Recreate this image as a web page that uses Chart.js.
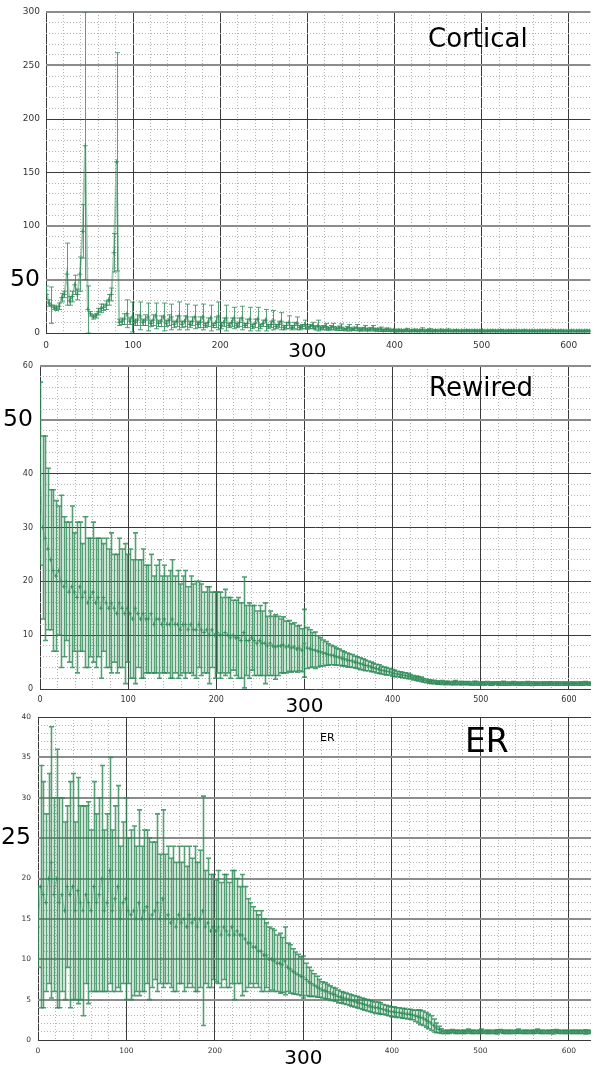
<!DOCTYPE html>
<html>
<head>
<meta charset="utf-8">
<script src="https://cdn.jsdelivr.net/npm/chart.js@4.4.1/dist/chart.umd.min.js"></script>
<style>
    html, body { margin: 0; padding: 0; background: #fff; }
    body { width: 594px; height: 1066px; position: relative; overflow: hidden; font-family: 'DejaVu Sans', sans-serif; }
    canvas { position: absolute; left: 0; }
    .label { position: absolute; line-height: 1; color: #000; white-space: nowrap; }
</style>
</head>
<body>
<canvas id="corticalChart" width="594" height="357" style="top:0px"></canvas>
<canvas id="rewiredChart" width="594" height="358" style="top:355px"></canvas>
<canvas id="erChart" width="594" height="356" style="top:710px"></canvas>
<div class="label" style="left:428px; top:25px; font-size:26px;">Cortical</div>
<div class="label" style="left:429px; top:374px; font-size:26px;">Rewired</div>
<div class="label" style="left:320px; top:732px; font-size:11px;">ER</div>
<div class="label" style="left:465px; top:724px; font-size:33px;">ER</div>
<script>
const xValues = [
    0, 3, 6, 9, 12, 15, 18, 21, 24, 27,
    30, 33, 36, 39, 42, 45, 48, 51, 54, 57,
    60, 63, 66, 69, 72, 75, 78, 81, 84, 87,
    90, 93, 96, 99, 102, 105, 108, 111, 114, 117,
    120, 123, 126, 129, 132, 135, 138, 141, 144, 147,
    150, 153, 156, 159, 162, 165, 168, 171, 174, 177,
    180, 183, 186, 189, 192, 195, 198, 201, 204, 207,
    210, 213, 216, 219, 222, 225, 228, 231, 234, 237,
    240, 243, 246, 249, 252, 255, 258, 261, 264, 267,
    270, 273, 276, 279, 282, 285, 288, 291, 294, 297,
    300, 303, 306, 309, 312, 315, 318, 321, 324, 327,
    330, 333, 336, 339, 342, 345, 348, 351, 354, 357,
    360, 363, 366, 369, 372, 375, 378, 381, 384, 387,
    390, 393, 396, 399, 402, 405, 408, 411, 414, 417,
    420, 423, 426, 429, 432, 435, 438, 441, 444, 447,
    450, 453, 456, 459, 462, 465, 468, 471, 474, 477,
    480, 483, 486, 489, 492, 495, 498, 501, 504, 507,
    510, 513, 516, 519, 522, 525, 528, 531, 534, 537,
    540, 543, 546, 549, 552, 555, 558, 561, 564, 567,
    570, 573, 576, 579, 582, 585, 588, 591, 594, 597,
    600, 603, 606, 609, 612, 615, 618, 621, 624
];

const corticalMean = [
    40, 28, 26, 24, 23, 25, 33, 36, 55, 30,
    34, 45, 36, 55, 95, 175, 22, 18, 15, 16,
    20, 23, 24, 26, 31, 36, 75, 160, 10, 11,
    13, 18, 11, 15, 10, 12, 16, 10, 12, 15,
    9, 12, 16, 9, 11, 15, 9, 12, 15, 8,
    11, 16, 8, 11, 15, 8, 11, 15, 8, 10,
    15, 7, 10, 14, 7, 10, 16, 7, 10, 14,
    7, 10, 14, 7, 10, 14, 7, 9, 13, 6,
    9, 13, 6, 9, 12, 6, 8, 12, 6, 8,
    11, 5, 7, 10, 5, 7, 9, 5, 6, 8,
    5, 6, 7, 4.5, 7, 4.5, 5, 6, 4, 5,
    6, 4, 4.5, 5.5, 3.5, 4, 5, 3.5, 4, 5,
    3, 3.5, 4.5, 3, 3.5, 4.5, 3, 3, 3.5, 2.5,
    3, 3, 2.5, 2.5, 2, 2.5, 2, 2.2, 2.8, 2,
    2.2, 2.5, 2, 2.2, 3, 2, 2.3, 2.5, 2, 2.2,
    2, 2.4, 2, 2.1, 2.5, 1.9, 2, 2.2, 1.9, 2,
    2, 2.2, 1.9, 2, 2.1, 1.9, 2, 2.1, 1.8, 2,
    1.9, 2.1, 1.8, 2, 2.2, 1.8, 1.9, 2, 1.8, 2,
    1.9, 2, 1.8, 2.1, 1.9, 1.8, 2, 1.9, 1.8, 2,
    1.8, 2, 1.9, 1.8, 2.1, 1.8, 1.9, 2, 1.8, 1.9,
    1.8, 2, 1.9, 1.8, 2, 1.8, 1.9, 2, 1.8
];
const corticalErr = [
    4, 3, 17, 2, 2, 3, 4, 3, 29, 4,
    5, 9, 5, 16, 25, 125, 22, 2, 2, 2,
    3, 4, 3, 4, 5, 6, 18, 102, 3, 3,
    5, 13, 3, 14, 3, 5, 13, 3, 5, 13,
    3, 5, 12, 3, 5, 13, 3, 5, 12, 3,
    5, 13, 3, 5, 12, 3, 4, 11, 3, 5,
    12, 2, 4, 12, 2, 5, 13, 3, 4, 12,
    2, 4, 10, 2, 4, 11, 2, 4, 11, 2,
    4, 11, 2, 3, 10, 2, 3, 9, 2, 3,
    8, 2, 3, 6, 2, 3, 6, 2, 2, 4,
    1.5, 2, 3, 1.5, 5, 1.5, 2, 3, 1.5, 2,
    3, 1.5, 2, 3, 1, 2, 3, 1, 1.5, 3,
    1, 1.5, 2.5, 1, 1.5, 2.5, 1, 1.5, 2, 1,
    1.5, 1.5, 1, 1, 1, 1.2, 0.8, 1, 1.5, 0.8,
    1, 1.2, 0.8, 1, 1.8, 0.8, 1, 1.5, 0.8, 1,
    0.8, 1.2, 0.8, 1, 1.2, 0.8, 0.9, 1, 0.8, 0.9,
    0.9, 1, 0.8, 0.9, 1, 0.8, 0.9, 1, 0.8, 0.9,
    0.8, 1, 0.8, 0.9, 1.1, 0.8, 0.9, 1, 0.8, 0.9,
    0.8, 0.9, 0.8, 1, 0.9, 0.8, 0.9, 0.9, 0.8, 1,
    0.8, 0.9, 0.9, 0.8, 1, 0.8, 0.9, 0.9, 0.8, 0.9,
    0.8, 0.9, 0.9, 0.8, 0.9, 0.8, 0.9, 0.9, 0.8
];

const rewiredMean = [
    40, 30, 28, 26, 24, 22, 21, 22, 20, 19,
    20, 18, 19, 18, 17, 19, 17, 18, 16, 17,
    18, 16, 17, 15, 17, 16, 15, 16, 15, 14,
    16, 15, 14, 15, 14, 13, 15, 14, 13, 14,
    13, 13, 14, 12, 13, 13, 12, 13, 12, 12,
    13, 12, 12, 11, 12, 12, 11, 12, 11, 11,
    12, 11, 10.5, 11, 10, 11, 10, 10.5, 10, 10,
    10.5, 10, 9.5, 10, 9.5, 9.5, 9, 10.5, 9, 9,
    9.5, 9, 8.5, 9, 8.5, 8.5, 8, 8.5, 8, 7.8,
    8, 8, 8.2, 7.8, 8, 7.6, 7.8, 7.4, 7.6, 7.2,
    8.5, 7.6, 7.5, 7.3, 7.2, 7.0, 6.9, 6.7, 6.6, 6.4,
    6.3, 6.2, 6.0, 5.9, 5.7, 5.6, 5.4, 5.3, 5.2, 5.0,
    4.9, 4.7, 4.6, 4.4, 4.3, 4.1, 4.0, 3.8, 3.7, 3.5,
    3.4, 3.3, 3.2, 3.0, 2.9, 2.8, 2.7, 2.6, 2.5, 2.4,
    2.3, 2.1, 2.0, 1.9, 1.8, 1.6, 1.5, 1.4, 1.3, 1.3,
    1.2, 1.2, 1.2, 1.1, 1.2, 1.1, 1.1, 1.2, 1.1, 1.1,
    1.1, 1.1, 1.1, 1.0, 1.1, 1.1, 1.0, 1.1, 1.0, 1.1,
    1.0, 1.0, 1.1, 1.0, 1.0, 1.1, 1.0, 1.0, 1.0, 1.1,
    1.0, 1.0, 1.0, 1.0, 1.1, 1.0, 1.0, 1.0, 1.0, 1.0,
    1.0, 1.0, 1.0, 1.1, 1.0, 1.0, 1.0, 1.0, 1.0, 1.0,
    1.0, 1.0, 1.0, 1.0, 1.0, 1.0, 1.1, 1.0, 1.0
];
const rewiredErr = [
    17, 17, 19, 15, 13, 15, 14, 12, 16, 13,
    11, 13, 15, 11, 14, 12, 10, 14, 12, 11,
    13, 12, 11, 13, 10, 12, 11, 13, 10, 11,
    12, 11, 13, 10, 12, 11, 14, 10, 11, 12,
    10, 10, 11, 9, 10, 11, 9, 10, 9, 10,
    11, 9, 10, 8.5, 9, 10, 8, 9, 8.5, 9,
    8, 8.5, 7.5, 8, 9, 7, 8, 7.5, 8, 7,
    8, 7, 7.5, 6.5, 7, 7.5, 7, 10.3, 6.5, 7,
    6, 6.5, 6, 6.5, 6, 7.5, 5.5, 6, 5.5, 6,
    5.5, 5, 5.2, 4.8, 4.7, 4.5, 4.5, 4.3, 4.2, 4.0,
    6.3, 3.8, 3.5, 3.2, 3.4, 2.9, 2.6, 2.4, 2.2, 2.0,
    1.8, 1.7, 1.6, 1.5, 1.4, 1.3, 1.3, 1.2, 1.2, 1.1,
    1.1, 1.1, 1.0, 1.0, 0.9, 0.9, 0.8, 0.8, 0.8, 0.7,
    0.7, 0.7, 0.6, 0.6, 0.6, 0.5, 0.5, 0.5, 0.5, 0.5,
    0.4, 0.4, 0.4, 0.4, 0.4, 0.35, 0.35, 0.3, 0.3, 0.3,
    0.3, 0.3, 0.35, 0.3, 0.25, 0.3, 0.3, 0.35, 0.3, 0.3,
    0.3, 0.25, 0.3, 0.3, 0.35, 0.3, 0.3, 0.25, 0.3, 0.3,
    0.3, 0.3, 0.25, 0.3, 0.3, 0.35, 0.3, 0.3, 0.25, 0.3,
    0.3, 0.25, 0.3, 0.3, 0.3, 0.3, 0.35, 0.3, 0.25, 0.3,
    0.3, 0.3, 0.3, 0.25, 0.3, 0.3, 0.3, 0.3, 0.3, 0.25,
    0.3, 0.3, 0.25, 0.3, 0.3, 0.3, 0.3, 0.25, 0.3
];

const erMean = [
    14, 19, 18, 17, 20, 22, 18, 20, 17, 18,
    16, 19, 18, 19, 16, 18.5, 17, 16, 18, 17,
    16, 19, 17, 18, 20, 16, 17, 21, 16, 17.5,
    19, 15, 17, 17.5, 16, 15.5, 16, 15, 17, 15,
    16, 16.5, 15, 15.5, 16, 17, 15, 17.5, 15, 15.5,
    14.5, 15, 14, 15.5, 14.5, 15, 14, 15.5, 14.5, 15,
    14, 15, 16, 14, 14.5, 13.5, 14, 13.5, 14, 13,
    14, 13.5, 13, 14, 13, 13.5, 13, 13, 12.5, 12,
    12, 11.5, 11.5, 11, 11, 10.5, 10.5, 10, 10, 9.8,
    9.5, 9.5, 9.3, 9.8, 9, 8.8, 8.5, 8.3, 8.1, 7.9,
    7.8, 7.5, 7.2, 7.0, 6.8, 6.6, 6.4, 6.2, 6.1, 6.0,
    5.8, 5.7, 5.6, 5.4, 5.3, 5.2, 5.1, 5.0, 4.9, 4.8,
    4.7, 4.6, 4.5, 4.4, 4.3, 4.2, 4.1, 4.0, 4.0, 3.9,
    3.8, 3.7, 3.6, 3.5, 3.5, 3.4, 3.4, 3.3, 3.3, 3.2,
    3.2, 3.1, 3.0, 2.9, 2.8, 2.7, 2.5, 2.3, 2.1, 1.8,
    1.5, 1.3, 1.1, 1.0, 1.0, 1.0, 1.1, 1.0, 1.0, 1.0,
    1.0, 1.0, 1.1, 1.0, 1.0, 1.0, 1.0, 1.1, 1.0, 1.0,
    1.0, 1.0, 1.0, 1.0, 1.1, 1.0, 1.0, 1.0, 1.0, 1.0,
    1.0, 1.1, 1.0, 1.0, 1.0, 1.0, 1.0, 1.0, 1.1, 1.0,
    1.0, 1.0, 1.0, 1.0, 1.0, 1.1, 1.0, 1.0, 1.0, 1.0,
    1.0, 1.0, 1.0, 1.0, 1.0, 1.0, 1.0, 1.0, 1.0
];
const erErr = [
    5, 15, 14, 11, 13, 16.8, 12, 16, 13, 12,
    11, 10, 14, 14, 11, 14, 12, 13, 11, 12.5,
    10, 13, 11, 12, 14, 10, 11, 14, 10, 11.5,
    12.5, 9, 10, 12.5, 9, 10.5, 10.5, 9, 11.5, 9,
    10, 9.5, 10, 9, 8.5, 11, 8, 11, 8, 8.5,
    8, 9, 8, 8.5, 7.5, 9, 7.5, 8.5, 8, 9,
    8, 8.5, 14.2, 7, 8, 7, 6.5, 6.3, 7, 6.5,
    6.5, 7, 6.5, 7, 8, 6.5, 6, 7.5, 6.5, 5.5,
    5, 5, 4.5, 4.5, 5, 4.5, 4, 4, 3.8, 3.8,
    3.5, 3.7, 3.4, 4.2, 3, 3, 2.8, 2.6, 2.5, 2.4,
    2.6, 2, 1.8, 1.6, 1.4, 1.3, 1.1, 1.0, 1.0, 0.9,
    0.9, 0.8, 0.8, 0.8, 0.7, 0.7, 0.7, 0.7, 0.7, 0.7,
    0.7, 0.7, 0.7, 0.7, 0.7, 0.7, 0.7, 0.7, 0.7, 0.7,
    0.6, 0.6, 0.6, 0.6, 0.6, 0.6, 0.6, 0.6, 0.6, 0.6,
    0.6, 0.6, 0.7, 0.8, 0.9, 0.9, 0.9, 0.9, 0.9, 0.8,
    0.6, 0.4, 0.3, 0.2, 0.2, 0.2, 0.2, 0.2, 0.2, 0.2,
    0.2, 0.2, 0.25, 0.2, 0.2, 0.2, 0.2, 0.25, 0.2, 0.2,
    0.2, 0.2, 0.2, 0.25, 0.2, 0.2, 0.2, 0.2, 0.2, 0.2,
    0.2, 0.25, 0.2, 0.2, 0.2, 0.2, 0.2, 0.2, 0.25, 0.2,
    0.2, 0.2, 0.2, 0.2, 0.25, 0.2, 0.2, 0.2, 0.2, 0.2,
    0.2, 0.2, 0.2, 0.2, 0.2, 0.2, 0.25, 0.2, 0.2
];

(function () {
    const FONT = "'DejaVu Sans', sans-serif";
    const GREEN = '#2e8b57';
    const X_MAX = 625;

    // vertical error bars with caps, drawn through the chart's own scales
    const errorBars = {
        id: 'errorBars',
        beforeDatasetsDraw(chart, args, opts) {
            const { ctx, chartArea, scales } = chart;
            const points = chart.data.datasets[0].data;
            ctx.save();
            ctx.beginPath();
            ctx.rect(chartArea.left, chartArea.top, chartArea.width, chartArea.height);
            ctx.clip();
            ctx.strokeStyle = opts.color;
            ctx.lineWidth = opts.width;
            points.forEach(p => {
                const px = Math.round(scales.x.getPixelForValue(p.x)) + 0.5;
                const top = scales.y.getPixelForValue(p.y + p.err);
                const bottom = scales.y.getPixelForValue(p.y - p.err);
                ctx.beginPath();
                ctx.moveTo(px, top);
                ctx.lineTo(px, bottom);
                ctx.moveTo(px - opts.cap, top);
                ctx.lineTo(px + opts.cap, top);
                ctx.moveTo(px - opts.cap, bottom);
                ctx.lineTo(px + opts.cap, bottom);
                ctx.stroke();
            });
            ctx.restore();
        }
    };

    function tickValue(c) {
        return c && c.tick ? c.tick.value : null;
    }

    function buildPanel(canvasId, panel) {
        const points = xValues.map((x, i) => ({ x: x, y: panel.mean[i], err: panel.err[i] }));
        if (panel.mean.length !== xValues.length || panel.err.length !== xValues.length) {
            console.warn(canvasId, 'length mismatch', panel.mean.length, panel.err.length);
        }

        new Chart(document.getElementById(canvasId), {
            type: 'line',
            data: {
                datasets: [{
                    data: points,
                    borderColor: panel.lineColor,
                    borderWidth: panel.lineWidth,
                    pointStyle: 'cross',
                    pointRadius: panel.pointRadius,
                    pointHoverRadius: 0,
                    pointBorderColor: 'rgba(46,139,87,0.8)',
                    pointBorderWidth: 1,
                    tension: 0,
                }],
            },
            options: {
                responsive: false,
                animation: false,
                events: [],
                layout: { padding: { top: panel.padTop, left: 0, right: 0, bottom: 0 } },
                plugins: {
                    legend: { display: false },
                    tooltip: { enabled: false },
                    errorBars: { color: panel.barColor, width: panel.barWidth, cap: 2.5 },
                },
                scales: {
                    x: {
                        type: 'linear',
                        min: 0,
                        max: X_MAX,
                        offset: false,
                        afterFit: s => {
                            s.height = panel.xAxisHeight;
                            s.paddingLeft = 0;
                            s.paddingRight = 0;
                        },
                        ticks: {
                            stepSize: 20,
                            autoSkip: false,
                            maxRotation: 0,
                            padding: panel.xPad,
                            callback: v => (v % 100 === 0 ? String(v) : ''),
                            font: c => (tickValue(c) === 300
                                ? { family: FONT, size: 20 }
                                : { family: FONT, size: panel.tickSize }),
                            color: c => (tickValue(c) === 300 ? '#000' : '#333'),
                        },
                        grid: {
                            drawTicks: false,
                            lineWidth: 1,
                            color: c => {
                                const v = tickValue(c);
                                if (v === X_MAX) return 'rgba(0,0,0,0)';
                                return v % 100 === 0 ? '#3a3a3a' : '#b5b5b5';
                            },
                        },
                        border: {
                            display: false,
                            dash: c => {
                                const v = tickValue(c);
                                return v !== null && v % 100 !== 0 ? [1, 2] : [];
                            },
                        },
                    },
                    y: {
                        min: 0,
                        max: panel.yMax,
                        afterFit: s => {
                            s.width = panel.yAxisWidth;
                            s.paddingTop = 0;
                            s.paddingBottom = 0;
                        },
                        ticks: {
                            stepSize: panel.yMinor,
                            autoSkip: false,
                            padding: panel.yPad,
                            callback: v => (v % panel.yMajor === 0 ? String(v) : ''),
                            font: c => (tickValue(c) === panel.bigY
                                ? { family: FONT, size: 23.5 }
                                : { family: FONT, size: panel.tickSize }),
                            color: c => (tickValue(c) === panel.bigY ? '#000' : '#333'),
                        },
                        grid: {
                            drawTicks: false,
                            lineWidth: c => (panel.grayLines.includes(tickValue(c)) ? 2 : 1),
                            color: c => {
                                const v = tickValue(c);
                                if (v === null) return '#b5b5b5';
                                if (v % panel.yMajor !== 0) return '#b5b5b5';
                                return panel.grayLines.includes(v) ? '#8c8c8c' : '#3a3a3a';
                            },
                        },
                        border: {
                            display: false,
                            dash: c => {
                                const v = tickValue(c);
                                return v !== null && v % panel.yMajor !== 0 ? [1, 2] : [];
                            },
                        },
                    },
                },
            },
            plugins: [errorBars],
        });
    }

    buildPanel('corticalChart', {
        mean: corticalMean, err: corticalErr,
        yMax: 300, yMinor: 10, yMajor: 50, bigY: 50,
        grayLines: [50, 100, 250, 300],
        padTop: 12, yAxisWidth: 46, xAxisHeight: 24,
        tickSize: 9, xPad: 7, yPad: 6,
        lineColor: 'rgba(46,139,87,0.45)', lineWidth: 2, pointRadius: 2.5,
        barColor: 'rgba(46,139,87,0.8)', barWidth: 1,
    });
    buildPanel('rewiredChart', {
        mean: rewiredMean, err: rewiredErr,
        yMax: 60, yMinor: 2, yMajor: 10, bigY: 50,
        grayLines: [50, 60],
        padTop: 11, yAxisWidth: 40, xAxisHeight: 24,
        tickSize: 8, xPad: 6, yPad: 7,
        lineColor: 'rgba(46,139,87,0.35)', lineWidth: 1, pointRadius: 2,
        barColor: 'rgba(46,139,87,0.82)', barWidth: 1.6,
    });
    buildPanel('erChart', {
        mean: erMean, err: erErr,
        yMax: 40, yMinor: 1, yMajor: 5, bigY: 25,
        grayLines: [5, 10, 15, 20, 25, 30, 35],
        padTop: 7, yAxisWidth: 38, xAxisHeight: 26,
        tickSize: 7.5, xPad: 7, yPad: 7,
        lineColor: 'rgba(46,139,87,0.35)', lineWidth: 1, pointRadius: 2,
        barColor: 'rgba(46,139,87,0.82)', barWidth: 1.6,
    });
})();
</script>
</body>
</html>
